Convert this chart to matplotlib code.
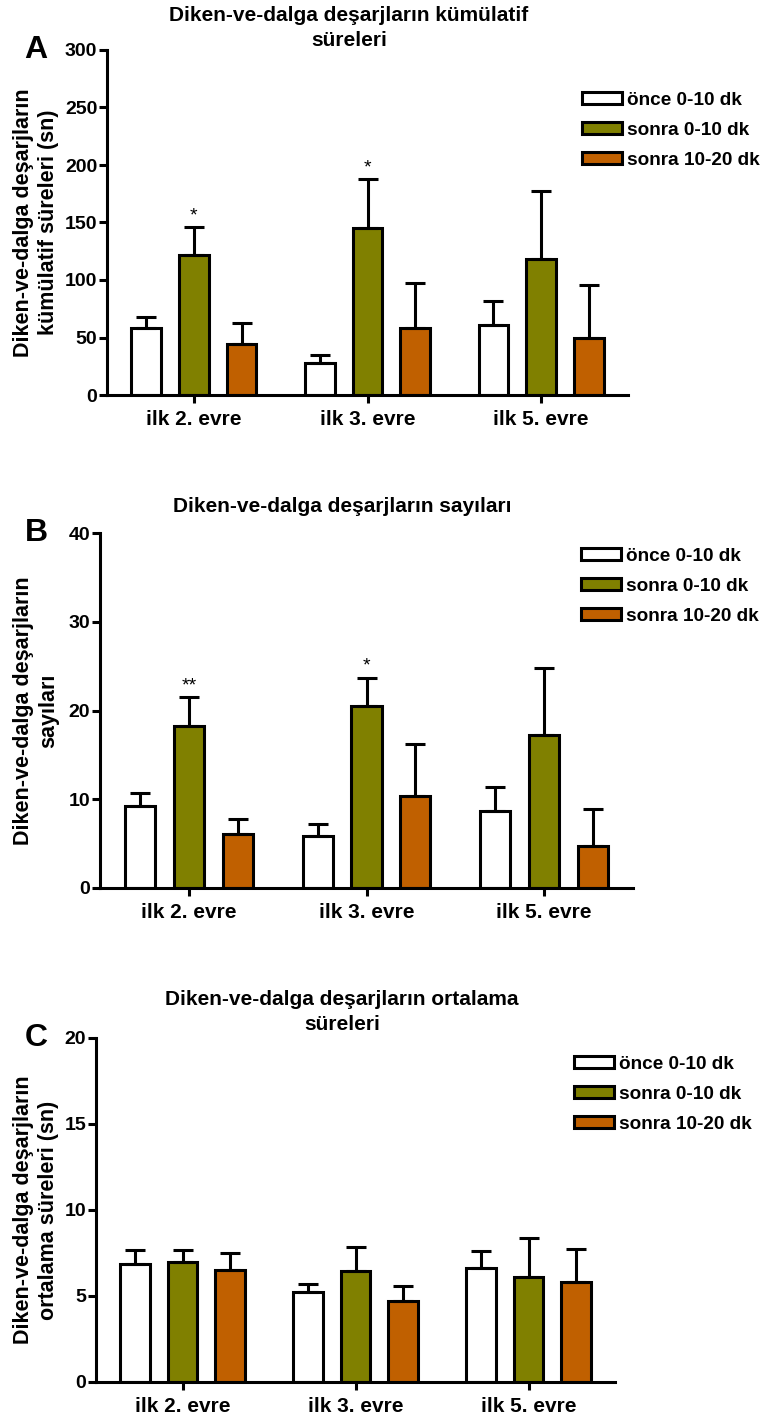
import matplotlib.pyplot as plt
import numpy as np

plt.rcParams['font.family'] = ['Liberation Sans', 'DejaVu Sans']
plt.rcParams['font.weight'] = 'bold'

W, H = 765, 1419

groups = ['ilk 2. evre', 'ilk 3. evre', 'ilk 5. evre']
series = ['önce 0-10 dk', 'sonra 0-10 dk', 'sonra 10-20 dk']
colors = ['white', '#808000', '#C06000']

# A: kümülatif süreler (sn), ortalama ve SEM
a_mean = [[58, 28, 61], [122, 145, 118], [44, 58, 50]]
a_err = [[9.5, 6.5, 21], [24, 43, 59], [19, 39, 46]]
a_stars = [['', '', ''], ['*', '*', ''], ['', '', '']]

# B: deşarj sayıları
b_mean = [[9.25, 5.9, 8.7], [18.2, 20.5, 17.2], [6.1, 10.4, 4.7]]
b_err = [[1.45, 1.3, 2.7], [3.3, 3.2, 7.6], [1.65, 5.8, 4.2]]
b_stars = [['', '', ''], ['**', '*', ''], ['', '', '']]

# C: ortalama süreler (sn)
c_mean = [[6.87, 5.22, 6.6], [6.96, 6.44, 6.1], [6.52, 4.7, 5.84]]
c_err = [[0.79, 0.48, 1.04], [0.7, 1.41, 2.3], [0.96, 0.9, 1.91]]
c_stars = [['', '', ''], ['', '', ''], ['', '', '']]


def fx(x):
    return x / W


def fy(y):
    return 1 - y / H


def panel(rect, mean, err, stars, ymax, ystep, letter, title, title_xy, ylabel,
          leg_xy):
    l, t, r, b = rect
    ax = fig.add_axes([fx(l), fy(b), (r - l) / W, (b - t) / H])
    x = np.arange(len(groups))
    offs = [-0.275, 0, 0.275]
    bars = []
    for i in range(len(series)):
        bc = ax.bar(x + offs[i], mean[i], width=0.17, color=colors[i],
                    edgecolor='black', linewidth=2.2, zorder=2,
                    label=series[i])
        bars.append(bc)
        ax.errorbar(x + offs[i], mean[i],
                    yerr=[np.zeros(len(groups)), err[i]],
                    fmt='none', ecolor='black', elinewidth=2.2, capsize=7,
                    capthick=2.2, zorder=3)
        for j in range(len(groups)):
            if stars[i][j]:
                ax.annotate(stars[i][j], (x[j] + offs[i], mean[i][j] + err[i][j]),
                            xytext=(0, 2), textcoords='offset points',
                            ha='center', va='bottom', fontsize=14,
                            fontweight='normal')
    ax.set_xlim(-0.5, 2.5)
    ax.set_ylim(0, ymax)
    ax.set_yticks(np.arange(0, ymax + ystep / 2, ystep))
    ax.set_xticks(x)
    ax.set_xticklabels(groups)
    ax.spines['top'].set_visible(False)
    ax.spines['right'].set_visible(False)
    for s in ['left', 'bottom']:
        ax.spines[s].set_linewidth(2.2)
    ax.tick_params(axis='both', direction='out', length=6, width=2.2)
    ax.tick_params(axis='y', pad=1, labelsize=14)
    ax.tick_params(axis='x', pad=5, labelsize=15)
    for lab in ax.get_xticklabels() + ax.get_yticklabels():
        lab.set_fontweight('bold')

    fig.text(fx(36), fy((t + b) / 2), ylabel, rotation=90, ha='center',
             va='center', fontsize=15.5, fontweight='bold',
             multialignment='center', linespacing=1.3)
    fig.text(fx(36), fy(t), letter, ha='center', va='center', fontsize=23,
             fontweight='bold')
    fig.text(fx(title_xy[0]), fy(title_xy[1]), title, ha='center', va='top',
             fontsize=15, fontweight='bold', linespacing=1.4)
    ax.legend(bars, series, loc='upper left',
              bbox_to_anchor=(fx(leg_xy[0]), fy(leg_xy[1])),
              bbox_transform=fig.transFigure, frameon=False,
              handlelength=2.1, handleheight=0.62, handletextpad=0.25,
              labelspacing=0.68, borderpad=0, borderaxespad=0,
              prop={'weight': 'bold', 'size': 13.7})
    return ax


fig = plt.figure(figsize=(W / 100, H / 100), dpi=100)

panel((107, 50, 628, 395), a_mean, a_err, a_stars, 300, 50, 'A',
      'Diken-ve-dalga deşarjların kümülatif\nsüreleri', (349, 6),
      'Diken-ve-dalga deşarjların\nkümülatif süreleri (sn)', (582, 92))
panel((100, 533, 633, 888), b_mean, b_err, b_stars, 40, 10, 'B',
      'Diken-ve-dalga deşarjların sayıları', (342, 497),
      'Diken-ve-dalga deşarjların\nsayıları', (581, 548))
panel((96, 1038, 615, 1382), c_mean, c_err, c_stars, 20, 5, 'C',
      'Diken-ve-dalga deşarjların ortalama\nsüreleri', (342, 990),
      'Diken-ve-dalga deşarjların\nortalama süreleri (sn)', (574, 1056))

fig.savefig('out.png', dpi=100)
